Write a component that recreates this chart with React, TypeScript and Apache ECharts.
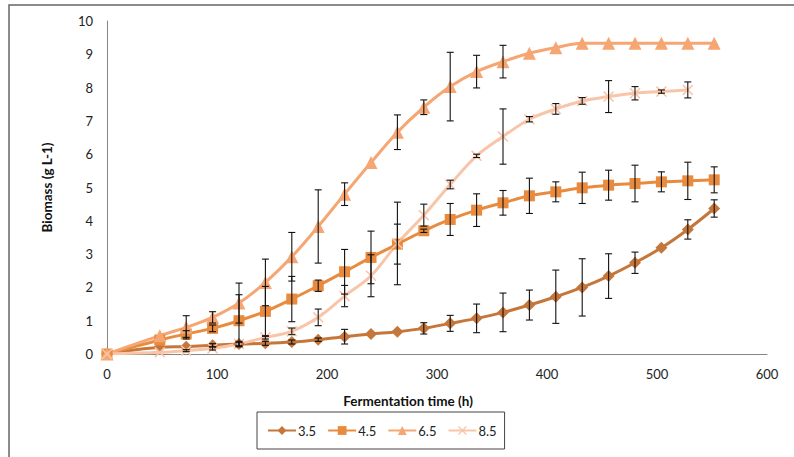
import React, { useEffect, useRef } from "react";
import * as echarts from "echarts";

const times = [0, 48, 72, 96, 120, 144, 168, 192, 216, 240, 264, 288, 312, 336, 360, 384, 408, 432, 456, 480, 504, 528, 552];
const xTicks = [0, 100, 200, 300, 400, 500, 600];
const yTicks = [0, 1, 2, 3, 4, 5, 6, 7, 8, 9, 10];

const ph35 = [0, 0.2, 0.22, 0.26, 0.3, 0.32, 0.36, 0.43, 0.52, 0.6, 0.67, 0.77, 0.92, 1.07, 1.25, 1.47, 1.72, 2.0, 2.34, 2.74, 3.19, 3.74, 4.37];
const err35 = [0, 0, 0, 0.05, 0.08, 0.06, 0.06, 0.05, 0.22, 0, 0, 0.17, 0.24, 0.43, 0.58, 0.45, 0.8, 0.86, 0.67, 0.32, 0, 0.29, 0.26];

const ph45 = [0, 0.42, 0.6, 0.77, 1.0, 1.28, 1.65, 2.05, 2.47, 2.9, 3.3, 3.7, 4.04, 4.32, 4.54, 4.75, 4.87, 4.99, 5.07, 5.12, 5.17, 5.2, 5.23];
const err45 = [0, 0, 0.1, 0.1, 0.78, 0.75, 0.68, 0.17, 0.67, 0.79, 0.6, 0.05, 0.48, 0.49, 0.37, 0.53, 0.3, 0.47, 0.45, 0.55, 0.3, 0.56, 0.39];

const ph65 = [0, 0.55, 0.8, 1.1, 1.53, 2.15, 2.92, 3.83, 4.8, 5.75, 6.66, 7.41, 8.03, 8.48, 8.78, 9.03, 9.2, 9.33, 9.33, 9.33, 9.33, 9.33, 9.33];
const err65 = [0, 0, 0.35, 0.17, 0.6, 0.7, 0.73, 1.1, 0.34, 0, 0.52, 0.22, 1.03, 0.49, 0.49, 0, 0, 0, 0, 0, 0, 0, 0];

const ph85 = [0, 0.05, 0.1, 0.17, 0.3, 0.5, 0.68, 1.1, 1.74, 2.35, 3.32, 4.17, 5.09, 5.95, 6.53, 7.05, 7.36, 7.6, 7.73, 7.83, 7.88, 7.93];
const err85 = [0, 0, 0.03, 0.05, 0.05, 0.05, 0.1, 0.25, 0.32, 0.63, 1.24, 0.33, 0.13, 0.05, 0.83, 0.08, 0.16, 0.1, 0.48, 0.2, 0.05, 0.24];

const seriesNames = ["3.5", "4.5", "6.5", "8.5"];
const colors = ["#C5763A", "#E98B3F", "#F5A673", "#F9C5A9"];

const FONT = "Lato, 'Open Sans', sans-serif";
const X_SYMBOL = "path://M0,1L1,0L5,4L9,0L10,1L6,5L10,9L9,10L5,6L1,10L0,9L4,5Z";

export default function App() {
  const ref = useRef<HTMLDivElement>(null);
  useEffect(() => {
    document.body.style.margin = "0";
    const chart = echarts.init(ref.current!, null, { renderer: "svg" });
    const values = [ph35, ph45, ph65, ph85];
    const errs = [err35, err45, err65, err85];
    const symbols = ["diamond", "rect", "triangle", X_SYMBOL];
    const sizes = [12, 11, 13, 11];

    const lineSeries = values.map((vals, k) => ({
      type: "line",
      name: seriesNames[k],
      data: vals.map((v, i) => [times[i], v]),
      smooth: 0.35,
      symbol: symbols[k],
      symbolSize: sizes[k],
      showSymbol: true,
      color: colors[k],
      lineStyle: { width: 3, color: colors[k] },
      itemStyle: { color: colors[k] },
      z: 3,
    }));

    const errSeries = values.map((vals, k) => ({
      type: "custom",
      name: "err" + seriesNames[k],
      data: vals
        .map((v, i) => [times[i], v, errs[k][i]])
        .filter((d) => d[2] > 0),
      encode: { x: 0, y: 1 },
      z: 4,
      silent: true,
      renderItem: (params: any, api: any) => {
        const x = api.value(0);
        const y = api.value(1);
        const e = api.value(2);
        const top = api.coord([x, y + e]);
        const bot = api.coord([x, y - e]);
        const hw = 3.5;
        const st = { stroke: "#111", lineWidth: 1.1 };
        return {
          type: "group",
          children: [
            { type: "line", shape: { x1: top[0], y1: top[1], x2: bot[0], y2: bot[1] }, style: st },
            { type: "line", shape: { x1: top[0] - hw, y1: top[1], x2: top[0] + hw, y2: top[1] }, style: st },
            { type: "line", shape: { x1: bot[0] - hw, y1: bot[1], x2: bot[0] + hw, y2: bot[1] }, style: st },
          ],
        };
      },
    }));

    chart.setOption({
      animation: false,
      textStyle: { fontFamily: FONT },
      grid: { left: 107, top: 21, width: 660, height: 333 },
      xAxis: {
        type: "value",
        min: xTicks[0],
        max: xTicks[xTicks.length - 1],
        interval: 100,
        axisLine: { show: true, lineStyle: { color: "#868686", width: 1 } },
        axisTick: { show: false },
        splitLine: { show: false },
        axisLabel: { color: "#222", fontSize: 13, margin: 13, fontFamily: FONT },
      },
      yAxis: {
        type: "value",
        min: yTicks[0],
        max: yTicks[yTicks.length - 1],
        interval: 1,
        axisLine: { show: true, lineStyle: { color: "#868686", width: 1 } },
        axisTick: { show: false },
        splitLine: { show: false },
        axisLabel: { color: "#222", fontSize: 13, margin: 14, fontFamily: FONT },
      },
      legend: {
        data: seriesNames,
        left: 257,
        top: 412,
        orient: "horizontal",
        itemWidth: 28,
        itemHeight: 11,
        itemGap: 11,
        padding: [12, 8, 12, 10],
        borderColor: "#444",
        borderWidth: 1,
        textStyle: { fontSize: 13, color: "#222", fontFamily: FONT, padding: [0, 0, 0, -3] },
      },
      graphic: [
        {
          type: "rect",
          shape: { x: 9, y: 5, width: 900, height: 600 },
          style: { fill: "none", stroke: "#666", lineWidth: 1.5 },
          silent: true,
        },
        {
          type: "text",
          x: 408,
          y: 401,
          style: {
            text: "Fermentation time (h)",
            font: "bold 13.5px " + FONT,
            fill: "#111",
            textAlign: "center",
            textVerticalAlign: "middle",
          },
        },
        {
          type: "text",
          x: 47,
          y: 187.5,
          rotation: Math.PI / 2,
          style: {
            text: "Biomass (g L-1)",
            font: "bold 13.5px " + FONT,
            fill: "#111",
            textAlign: "center",
            textVerticalAlign: "middle",
          },
        },
      ],
      series: [...lineSeries, ...errSeries],
    });
    return () => chart.dispose();
  }, []);
  return <div ref={ref} style={{ width: 794, height: 457 }} />;
}
